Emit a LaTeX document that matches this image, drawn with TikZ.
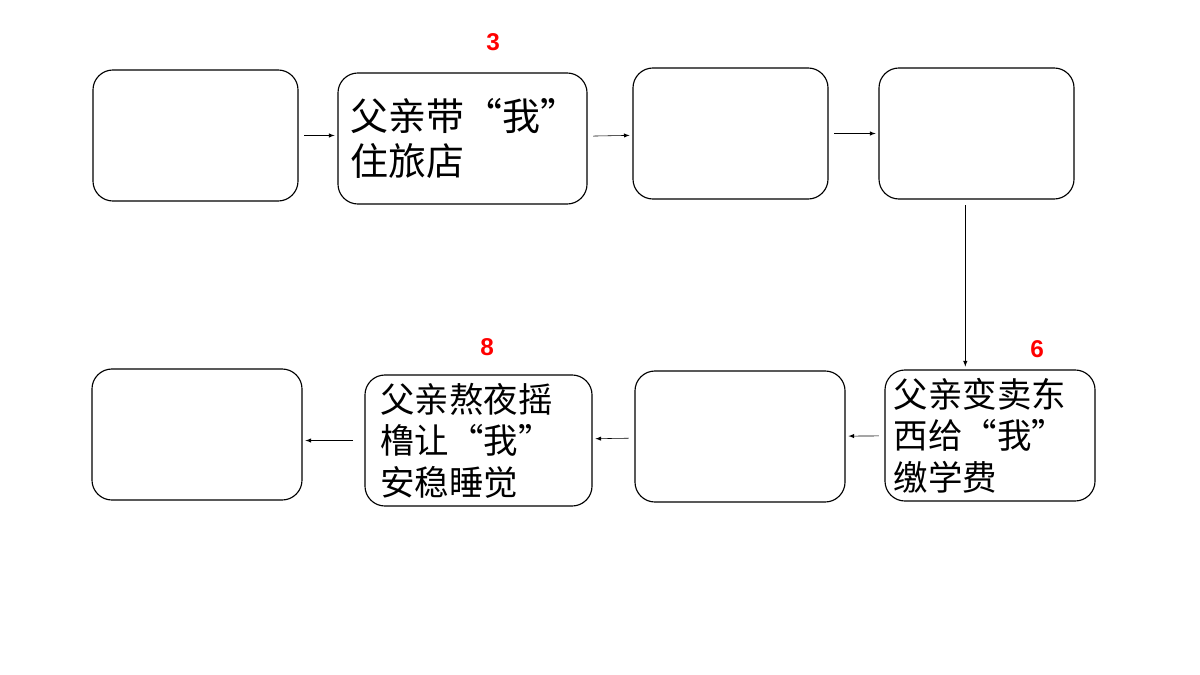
\documentclass[tikz,border=0pt]{standalone}
\usepackage{fontspec}
\newfontfamily\cjk{Noto Sans CJK SC}
\setsansfont{Liberation Sans}
\usetikzlibrary{positioning}
\tikzset{
  box/.style={draw, rounded corners=0.5cm, thick, align=left, inner sep=4pt},
  num/.style={text=red, font=\sffamily\bfseries\LARGE},
  link/.style={-latex, shorten >=2pt, shorten <=4pt}
}
\begin{document}
\begin{tikzpicture}[x=0.025cm,y=-0.025cm]
\useasboundingbox (0,0) rectangle (1200,675);
% top row
\node[box, minimum width=5.125cm, minimum height=3.275cm] (b1) at (195.5,135.5) {};
\node[box, minimum width=6.225cm, minimum height=3.275cm, font=\cjk\fontsize{27}{32}\selectfont, text width=5.6cm] (b2) at (462.5,138.5) {父亲带“我”\\住旅店};
\node[box, minimum width=4.875cm, minimum height=3.275cm] (b3) at (730.5,133.5) {};
\node[box, minimum width=4.875cm, minimum height=3.275cm] (b4) at (976.5,133.5) {};
% bottom row
\node[box, minimum width=5.25cm, minimum height=3.275cm, font=\cjk\fontsize{24.5}{29.5}\selectfont, text width=4.8cm] (b8) at (990,435.5) {父亲变卖东\\西给“我”\\缴学费};
\node[box, minimum width=5.25cm, minimum height=3.275cm] (b7) at (740,436.5) {};
\node[box, minimum width=5.675cm, minimum height=3.275cm, font=\cjk\fontsize{24.5}{29.5}\selectfont, text width=4.9cm] (b6) at (478.5,440.5) {父亲熬夜摇\\橹让“我”\\安稳睡觉};
\node[box, minimum width=5.25cm, minimum height=3.275cm] (b5) at (197,434.5) {};
% numbers
\node[num] (n3) at (493,42) {3};
\node[num] (n6) at (1037,349) {6};
\node[num] (n8) at (487,347) {8};
% arrows
\draw[link] (b1.east) -- (b1.east -| b2.west);
\draw[link] (b2) -- (b3);
\draw[link] (b3) -- (b4);
\draw[link] ([xshift=-0.28cm]b4.south) -- ([xshift=-0.28cm]b4.south |- b8.north);
\draw[link] (b8) -- (b7);
\draw[link] (b7) -- (b6);
\draw[link, shorten <=8pt] (b6.west) -- (b6.west -| b5.east);
\end{tikzpicture}
\end{document}
